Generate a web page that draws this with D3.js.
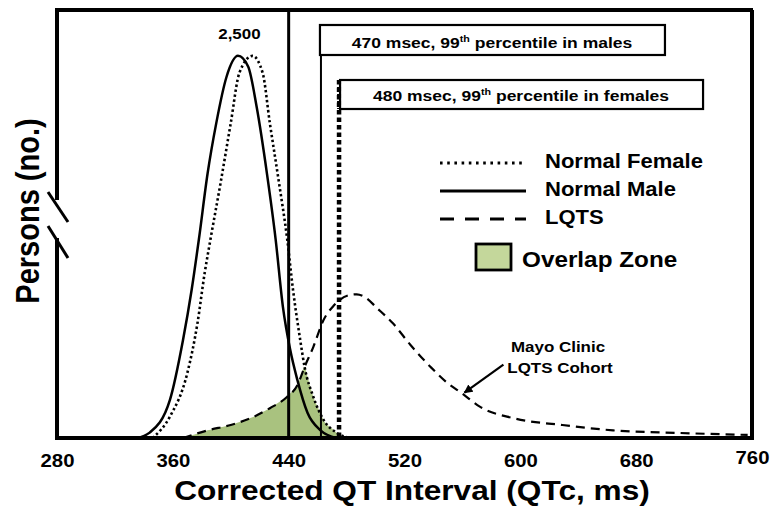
<!DOCTYPE html>
<html>
<head>
<meta charset="utf-8">
<script src="https://cdn.jsdelivr.net/npm/d3@7"></script>
<style>
    body { margin: 0; background: #fff; }
    svg text { font-family: "Liberation Sans", Arial, sans-serif; font-weight: bold; fill: #000; }
</style>
</head>
<body>
<svg id="chart" width="771" height="510"></svg>
<script>
//  values: corrected QT (ms) and number of persons
const xTicks = [280, 360, 440, 520, 600, 680, 760];

const maleQtc   = [335, 344, 358, 367, 373, 378, 384, 390, 397, 405, 412, 418, 425, 431, 436, 441, 446, 453, 462, 473];
const maleCount = [0, 35, 250, 640, 970, 1300, 1730, 2060, 2360, 2500, 2430, 2160, 1730, 1300, 860, 580, 380, 165, 50, 0];

const femaleQtc   = [346, 358, 370, 377, 382, 386, 393, 400, 406, 415, 422, 427, 433, 439, 443, 448, 451, 457, 464, 473, 482];
const femaleCount = [0, 140, 425, 750, 1080, 1300, 1670, 2060, 2390, 2500, 2390, 2060, 1690, 1300, 970, 640, 465, 270, 120, 35, 0];

const lqtsQtc   = [367, 384, 400, 415, 427, 439, 446, 451, 457, 464, 471, 482, 487, 493, 501, 512, 524, 538, 549, 560, 572, 595, 629, 664, 710, 757];
const lqtsCount = [0, 50, 85, 135, 195, 270, 345, 465, 595, 770, 865, 935, 940, 920, 850, 750, 610, 465, 365, 290, 205, 130, 85, 50, 33, 20];

//  cut-off lines (positions as drawn), labels
const cutThick = 440;
const cutMale = 462.3;
const cutFemale = 474.8;
const boxLabels = ["470 msec, 99", "480 msec, 99"];
const boxTails = [" percentile in males", " percentile in females"];

const SX = 1.13;     //  the source picture is stretched sideways a bit

const svg = d3.select("#chart");
const x = d3.scaleLinear().domain([280, 760]).range([57, 752]);
const y = d3.scaleLinear().domain([0, 2800]).range([438, 10]);

const male = maleQtc.map((q, i) => ({ q: q, n: maleCount[i] }));
const female = femaleQtc.map((q, i) => ({ q: q, n: femaleCount[i] }));
const lqts = lqtsQtc.map((q, i) => ({ q: q, n: lqtsCount[i] }));

function interp(data, q) {
    if (q <= data[0].q || q >= data[data.length - 1].q) return 0;
    const i = d3.bisector(d => d.q).right(data, q);
    const a = data[i - 1], b = data[i];
    return a.n + (b.n - a.n) * (q - a.q) / (b.q - a.q);
}

//  overlap: under the LQTS curve and the normal curves at once
const overlapQ = Array.from(new Set(lqtsQtc.concat(femaleQtc, maleQtc)))
    .filter(q => q >= lqtsQtc[0] && q <= femaleQtc[femaleQtc.length - 1])
    .sort((a, b) => a - b);
const overlap = overlapQ.map(q => ({
    q: q,
    n: Math.min(interp(lqts, q), Math.max(interp(female, q), interp(male, q)))
}));

svg.append("clipPath").attr("id", "plotClip")
    .append("rect").attr("x", 57).attr("y", 10).attr("width", 695).attr("height", 428);

const plot = svg.append("g").attr("clip-path", "url(#plotClip)");

plot.append("path").datum(overlap)
    .attr("fill", "#a9c27f")
    .attr("d", d3.area().x(d => x(d.q)).y0(y(0)).y1(d => y(d.n)).curve(d3.curveMonotoneX));

const line = d3.line().x(d => x(d.q)).y(d => y(d.n)).curve(d3.curveMonotoneX);

plot.append("path").datum(lqts).attr("d", line)
    .attr("fill", "none").attr("stroke", "#000").attr("stroke-width", 2.2).attr("stroke-dasharray", "9,6");
plot.append("path").datum(female).attr("d", line)
    .attr("fill", "none").attr("stroke", "#000").attr("stroke-width", 2.6).attr("stroke-dasharray", "2.4,2.6");
plot.append("path").datum(male).attr("d", line)
    .attr("fill", "none").attr("stroke", "#000").attr("stroke-width", 2.5);

//  vertical cut-off lines
svg.append("line").attr("x1", x(cutThick)).attr("x2", x(cutThick)).attr("y1", y(2800)).attr("y2", y(0))
    .attr("stroke", "#000").attr("stroke-width", 3);
svg.append("line").attr("x1", x(cutMale)).attr("x2", x(cutMale)).attr("y1", 25).attr("y2", y(0))
    .attr("stroke", "#000").attr("stroke-width", 2);
svg.append("line").attr("x1", x(cutFemale)).attr("x2", x(cutFemale)).attr("y1", 80).attr("y2", y(0))
    .attr("stroke", "#000").attr("stroke-width", 4.5).attr("stroke-dasharray", "4.5,3");

//  frame (y axis broken)
svg.append("line").attr("x1", 57).attr("x2", 753).attr("y1", 10).attr("y2", 10).attr("stroke", "#000").attr("stroke-width", 4);
svg.append("line").attr("x1", 752).attr("x2", 752).attr("y1", 10).attr("y2", 440).attr("stroke", "#000").attr("stroke-width", 4);
svg.append("line").attr("x1", 55).attr("x2", 754).attr("y1", 438).attr("y2", 438).attr("stroke", "#000").attr("stroke-width", 4);
svg.append("line").attr("x1", 57).attr("x2", 57).attr("y1", 8).attr("y2", 200).attr("stroke", "#000").attr("stroke-width", 4);
svg.append("line").attr("x1", 57).attr("x2", 57).attr("y1", 238).attr("y2", 440).attr("stroke", "#000").attr("stroke-width", 4);
[[48, 192, 68, 222], [48, 226, 68, 258]].forEach(s => {
    svg.append("line").attr("x1", s[0]).attr("y1", s[1]).attr("x2", s[2]).attr("y2", s[3])
        .attr("stroke", "#000").attr("stroke-width", 3);
});

//  x axis
const xAxis = svg.append("g").attr("transform", `translate(0,${y(0)})`)
    .call(d3.axisBottom(x).tickValues(xTicks).tickSize(0).tickPadding(16).tickFormat(d3.format("d")));
xAxis.select(".domain").remove();
xAxis.selectAll("text")
    .attr("transform", d => `translate(0,${d === 760 ? -3 : 0}) scale(${SX},1)`)
    .style("font-size", "18px").style("font-family", "'Liberation Sans', Arial, sans-serif").style("font-weight", "bold");

function addText(g, px, py, str, size, anchor) {
    return g.append("text")
        .attr("transform", `translate(${px},${py}) scale(${SX},1)`)
        .attr("text-anchor", anchor || "middle")
        .style("font-size", size + "px")
        .text(str);
}

addText(svg, 412, 500, "Corrected QT Interval (QTc, ms)", 28);
svg.append("text")
    .attr("transform", `translate(39,211) scale(${SX},1) rotate(-90)`)
    .attr("text-anchor", "middle").style("font-size", "29px")
    .text("Persons (no.)");

//  peak label
addText(svg, x(406), y(2500) - 17, "2,500", 15);

//  cut-off boxes
const boxes = [
    { x0: x(cutMale) - 1, y0: 25, w: 345, h: 30, cx: 492, by: 48 },
    { x0: x(cutFemale) + 1, y0: 80, w: 363, h: 29, cx: 521, by: 101 }
];
boxes.forEach((b, i) => {
    svg.append("rect").attr("x", b.x0).attr("y", b.y0).attr("width", b.w).attr("height", b.h)
        .attr("fill", "#fff").attr("stroke", "#000").attr("stroke-width", 2.2);
    const t = addText(svg, b.cx, b.by, "", 15.5);
    t.append("tspan").text(boxLabels[i]);
    t.append("tspan").attr("dy", -6).style("font-size", "9.5px").text("th");
    t.append("tspan").attr("dy", 6).text(boxTails[i]);
});
svg.append("line").attr("x1", x(cutFemale)).attr("x2", x(cutFemale)).attr("y1", 80).attr("y2", 109)
    .attr("stroke", "#000").attr("stroke-width", 4).attr("stroke-dasharray", "4,3");

//  legend
const legend = svg.append("g");
const legendRows = [
    { label: "Normal Female", dash: "2.6,4.6", y: 163 },
    { label: "Normal Male", dash: null, y: 191 },
    { label: "LQTS", dash: "14,11", y: 219 }
];
legendRows.forEach(r => {
    legend.append("line").attr("x1", 440).attr("x2", 526).attr("y1", r.y).attr("y2", r.y)
        .attr("stroke", "#000").attr("stroke-width", 3)
        .attr("stroke-dasharray", r.dash);
    addText(legend, 545, r.y + 5, r.label, 19.5, "start");
});
legend.append("rect").attr("x", 476).attr("y", 244).attr("width", 35).attr("height", 26)
    .attr("fill", "#c4d79b").attr("stroke", "#000").attr("stroke-width", 2.8);
addText(legend, 522, 267, "Overlap Zone", 21.5, "start");

//  cohort note with arrow
svg.append("defs").append("marker").attr("id", "arrowHead")
    .attr("viewBox", "0 0 10 10").attr("refX", 9).attr("refY", 5)
    .attr("markerWidth", 4).attr("markerHeight", 4).attr("orient", "auto")
    .append("path").attr("d", "M0,0L10,5L0,10z").attr("fill", "#000");
const tip = { px: x(560), py: y(interp(lqts, 560)) };
svg.append("line").attr("x1", tip.px + 41).attr("y1", tip.py - 29).attr("x2", tip.px + 2).attr("y2", tip.py - 1)
    .attr("stroke", "#000").attr("stroke-width", 2.2).attr("marker-end", "url(#arrowHead)");
addText(svg, 558, 352, "Mayo Clinic", 15);
addText(svg, 560, 373, "LQTS Cohort", 15);
</script>
</body>
</html>
